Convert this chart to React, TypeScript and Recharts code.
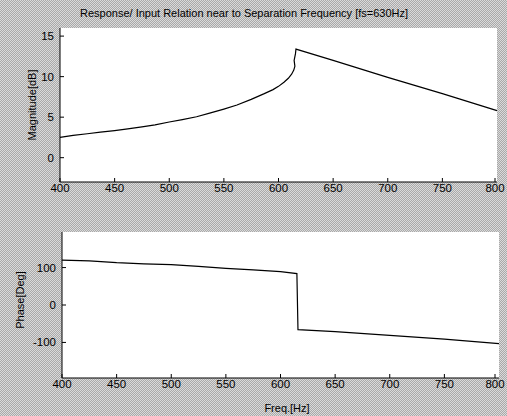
import { LineChart, Line, XAxis, YAxis, CartesianGrid } from 'recharts';

// magnitude response near the separation frequency
const magFreq = [400, 412, 425, 437, 450, 462, 475, 487, 500, 512, 525, 537, 550, 562, 575, 587, 595, 600, 605, 609, 612, 614, 615, 614.3, 615.5, 616, 650, 700, 750, 800];
const magValue = [2.5, 2.75, 2.95, 3.15, 3.35, 3.55, 3.8, 4.05, 4.4, 4.7, 5.05, 5.5, 6.0, 6.5, 7.2, 7.9, 8.4, 8.8, 9.3, 9.8, 10.3, 10.8, 11.3, 12.0, 12.8, 13.4, 12.0, 9.9, 7.9, 5.8];

// phase response
const phaseFreq = [400, 425, 450, 475, 500, 525, 550, 575, 600, 615, 616, 650, 700, 750, 800];
const phaseValue = [120, 118, 113, 110, 108, 103, 98, 94, 89, 84, -66, -71, -81, -91, -103];

const freqTicks = [400, 450, 500, 550, 600, 650, 700, 750, 800];
const magTicks = [0, 5, 10, 15];
const phaseTicks = [-100, 0, 100];

const magData = magFreq.map((f, i) => ({ f, v: magValue[i] }));
const phaseData = phaseFreq.map((f, i) => ({ f, v: phaseValue[i] }));

const font = '"Liberation Sans", Arial, sans-serif';

const BottomTick = (props: any) => {
  const { x, y, payload } = props;
  return (
    <g>
      <line x1={x} x2={x} y1={y} y2={y - 4} stroke="#000" />
      <text x={x} y={y + 10} textAnchor="middle" fontSize={11.5} fontFamily={font} fill="#000">
        {payload.value}
      </text>
    </g>
  );
};

const TopTick = (props: any) => {
  const { x, y } = props;
  return <line x1={x} x2={x} y1={y} y2={y + 4} stroke="#000" />;
};

const LeftTick = (props: any) => {
  const { x, y, payload } = props;
  return (
    <g>
      <line x1={x} x2={x + 4} y1={y} y2={y} stroke="#000" />
      <text x={x - 6} y={y + 4} textAnchor="end" fontSize={11.5} fontFamily={font} fill="#000">
        {payload.value}
      </text>
    </g>
  );
};

const RightTick = (props: any) => {
  const { x, y } = props;
  return <line x1={x} x2={x - 4} y1={y} y2={y} stroke="#000" />;
};

const txt: any = { position: 'absolute', fontFamily: font, fontSize: 11, color: '#000', whiteSpace: 'nowrap' };

export default function App() {
  return (
    <div
      style={{
        position: 'absolute',
        left: 0,
        top: 0,
        width: 507,
        height: 416,
        backgroundColor: '#c2c2c2',
        backgroundImage: 'repeating-conic-gradient(#a9a9a9 0 25%, #dadada 0 50%)',
        backgroundSize: '2px 2px',
        overflow: 'hidden',
      }}
    >
      <div style={{ ...txt, left: 80, top: 7 }}>
        Response/ Input Relation near to Separation Frequency [fs=630Hz]
      </div>

      <div style={{ position: 'absolute', left: 0, top: 0 }}>
        <LineChart width={507} height={200} data={magData} margin={{ top: 28, right: 10, left: 0, bottom: 0 }}>
          <CartesianGrid horizontal={false} vertical={false} fill="#fff" />
          <XAxis dataKey="f" type="number" domain={[400, 800]} ticks={freqTicks} height={18}
            tickLine={false} tickSize={0} tickMargin={0} tick={<BottomTick />} axisLine={{ stroke: '#000' }} />
          <XAxis xAxisId="top" orientation="top" dataKey="f" type="number" domain={[400, 800]} ticks={freqTicks}
            height={0} tickLine={false} tickSize={0} tickMargin={0} tick={<TopTick />} axisLine={{ stroke: '#000' }} />
          <YAxis type="number" domain={[-3, 16]} ticks={magTicks} width={60}
            tickLine={false} tickSize={0} tickMargin={0} tick={<LeftTick />} axisLine={{ stroke: '#000' }} />
          <YAxis yAxisId="r" orientation="right" type="number" domain={[-3, 16]} ticks={magTicks} width={0}
            tickLine={false} tickSize={0} tickMargin={0} tick={<RightTick />} axisLine={{ stroke: '#000' }} />
          <Line type="linear" dataKey="v" stroke="#000" strokeWidth={1.2} dot={false} isAnimationActive={false} />
        </LineChart>
      </div>

      <div style={{ position: 'absolute', left: 0, top: 200 }}>
        <LineChart width={507} height={216} data={phaseData} margin={{ top: 32, right: 8, left: 0, bottom: 20 }}>
          <CartesianGrid horizontal={false} vertical={false} fill="#fff" />
          <XAxis dataKey="f" type="number" domain={[400, 800]} ticks={freqTicks} height={18}
            tickLine={false} tickSize={0} tickMargin={0} tick={<BottomTick />} axisLine={{ stroke: '#000' }} />
          <XAxis xAxisId="top" orientation="top" dataKey="f" type="number" domain={[400, 800]} ticks={freqTicks}
            height={0} tickLine={false} tickSize={0} tickMargin={0} tick={<TopTick />} axisLine={{ stroke: '#000' }} />
          <YAxis type="number" domain={[-195, 195]} ticks={phaseTicks} width={62}
            tickLine={false} tickSize={0} tickMargin={0} tick={<LeftTick />} axisLine={{ stroke: '#000' }} />
          <YAxis yAxisId="r" orientation="right" type="number" domain={[-195, 195]} ticks={phaseTicks} width={0}
            tickLine={false} tickSize={0} tickMargin={0} tick={<RightTick />} axisLine={{ stroke: '#000' }} />
          <Line type="linear" dataKey="v" stroke="#000" strokeWidth={1.2} dot={false} isAnimationActive={false} />
        </LineChart>
      </div>

      <div style={{ ...txt, left: 32, top: 105, transform: 'translate(-50%, -50%) rotate(-90deg)' }}>
        Magnitude[dB]
      </div>
      <div style={{ ...txt, left: 20, top: 300, transform: 'translate(-50%, -50%) rotate(-90deg)' }}>
        Phase[Deg]
      </div>
      <div style={{ ...txt, left: 287, top: 408, transform: 'translate(-50%, -50%)' }}>
        Freq.[Hz]
      </div>
    </div>
  );
}
